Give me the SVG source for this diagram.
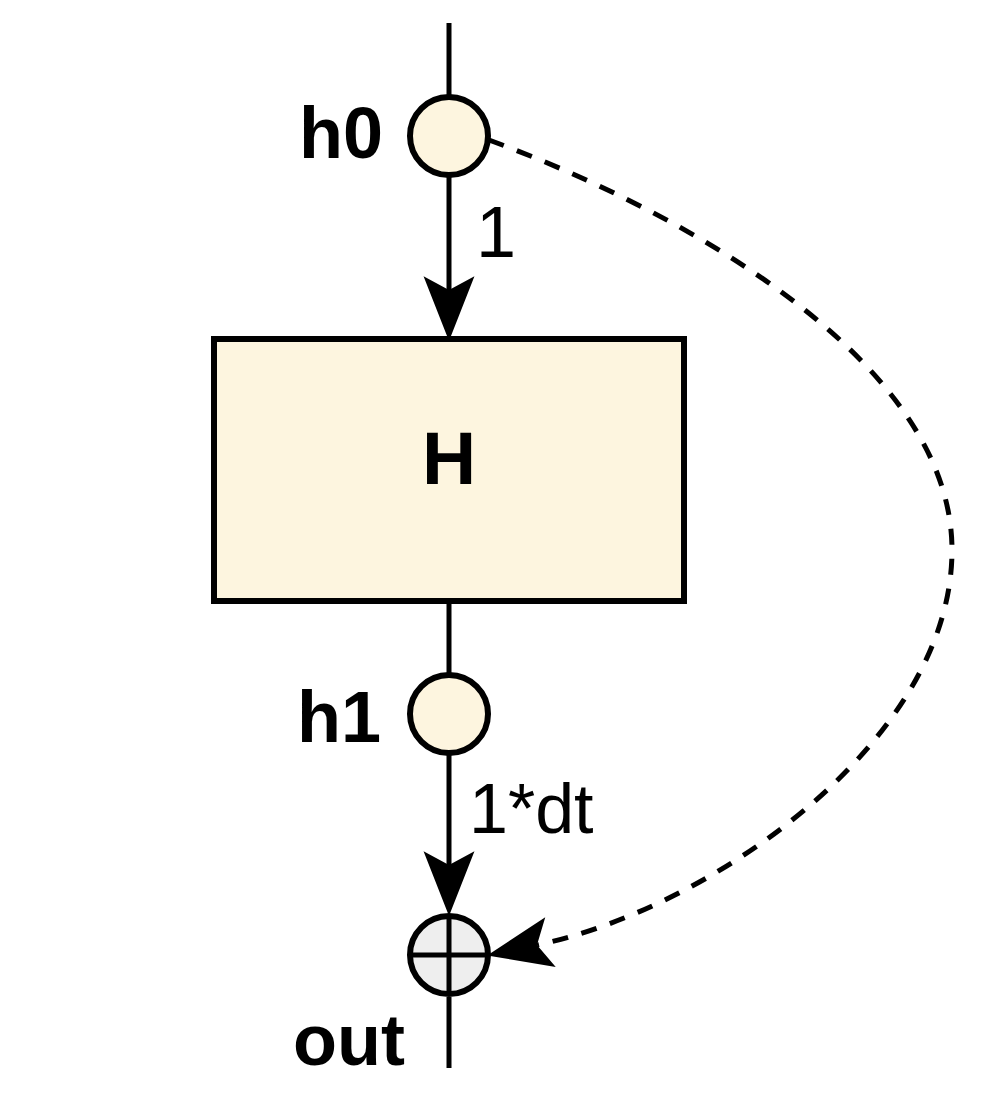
<svg xmlns="http://www.w3.org/2000/svg" width="1000" height="1106" viewBox="0 0 1000 1106">
<style>
.ln{stroke:#000;stroke-width:5;fill:none}
.dash{stroke:#000;stroke-width:5;fill:none;stroke-dasharray:16 14}
.node{fill:#FDF5DF;stroke:#000;stroke-width:6}
.sum{fill:#EEEEEE;stroke:#000;stroke-width:6}
.b{font-family:"Liberation Sans",Arial,sans-serif;font-weight:bold;fill:#000}
.r{font-family:"Liberation Sans",Arial,sans-serif;fill:#000}
</style>
<defs>
<marker id="arr" markerUnits="userSpaceOnUse" markerWidth="70" markerHeight="60" viewBox="-2 -26 66 52" refX="13" refY="0" orient="auto" overflow="visible">
<path d="M0,-24 L61,0 L0,24 L13,0 Z" fill="#000"/>
</marker>
</defs>
<rect width="1000" height="1106" fill="#fff"/>
<g id="connectors">
<line class="ln" x1="449" y1="23" x2="449" y2="96"/>
<line class="ln" x1="449" y1="177" x2="449" y2="290" marker-end="url(#arr)"/>
<line class="ln" x1="449" y1="601" x2="449" y2="673"/>
<line class="ln" x1="449" y1="755" x2="449" y2="865" marker-end="url(#arr)"/>
<line class="ln" x1="449" y1="997" x2="449" y2="1068"/>
<path class="dash" d="M489,140 C680,210 952,360 952,550 C952,740 713,908 537,945" marker-end="url(#arr)"/>
<text class="r" x="476" y="257" font-size="72">1</text>
<text class="r" x="469" y="833" font-size="70">1*dt</text>
</g>
<g id="h0">
<circle class="node" cx="449" cy="136" r="39"/>
<text class="b" x="383" y="158" font-size="72" text-anchor="end">h0</text>
</g>
<g id="H">
<rect class="node" x="214" y="339" width="470" height="262"/>
<text class="b" x="449" y="484" font-size="75" text-anchor="middle">H</text>
</g>
<g id="h1">
<circle class="node" cx="449" cy="714" r="39"/>
<text class="b" x="381" y="742" font-size="72" text-anchor="end">h1</text>
</g>
<g id="sum">
<circle class="sum" cx="449" cy="955" r="39"/>
<line class="ln" x1="449" y1="916" x2="449" y2="994"/>
<line class="ln" x1="410" y1="955" x2="488" y2="955"/>
</g>
<g id="out">
<text class="b" x="293" y="1065" font-size="72">out</text>
</g>
</svg>
